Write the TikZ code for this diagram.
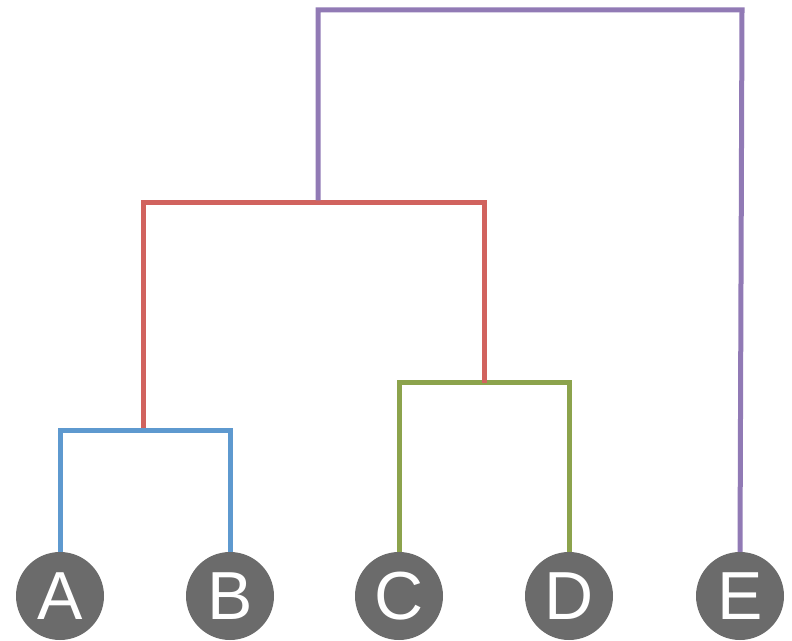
\documentclass[tikz,border=0pt]{standalone}
\usepackage{fontspec}
\setmainfont{Liberation Sans}
\usepackage{tikz}
\definecolor{leafgray}{rgb}{0.42, 0.42, 0.42}
\definecolor{linkblue}{rgb}{0.37, 0.60, 0.81}
\definecolor{linkred}{rgb}{0.82, 0.39, 0.37}
\definecolor{linkgreen}{rgb}{0.55, 0.64, 0.30}
\definecolor{linkpurple}{rgb}{0.57, 0.48, 0.71}

\begin{document}
\begin{tikzpicture}[x=1pt,y=1pt,
        leaf/.style={circle,fill=leafgray,text=white,inner sep=0pt,minimum size=88pt,
            font=\fontsize{68}{68}\selectfont},
        link/.style={line width=5pt,line join=miter}
    ]
        \useasboundingbox (0,0) rectangle (792,640);
        % leaves
        \node[leaf] (A) at (60,44) {A};
        \node[leaf] (B) at (230,44) {B};
        \node[leaf] (C) at (399,44) {C};
        \node[leaf] (D) at (569,44) {D};
        \node[leaf] (E) at (740,44) {E};
        % merge points
        \coordinate (ab) at (143,209);
        \coordinate (cd) at (484,257);
        \coordinate (abcd) at (318,437);
        \coordinate (top) at (742,630);
        % links
        \draw[link,linkblue] (A.north) |- (ab) -| (B.north);
        \draw[link,linkgreen] (C.north) |- (cd) -| (D.north);
        \draw[link,linkred] ([yshift=2.5pt]ab) |- (abcd) -| (cd);
        \draw[link,linkpurple] ([yshift=2.5pt]abcd) |- (top) -- (E.north);
    \end{tikzpicture}
\end{document}
